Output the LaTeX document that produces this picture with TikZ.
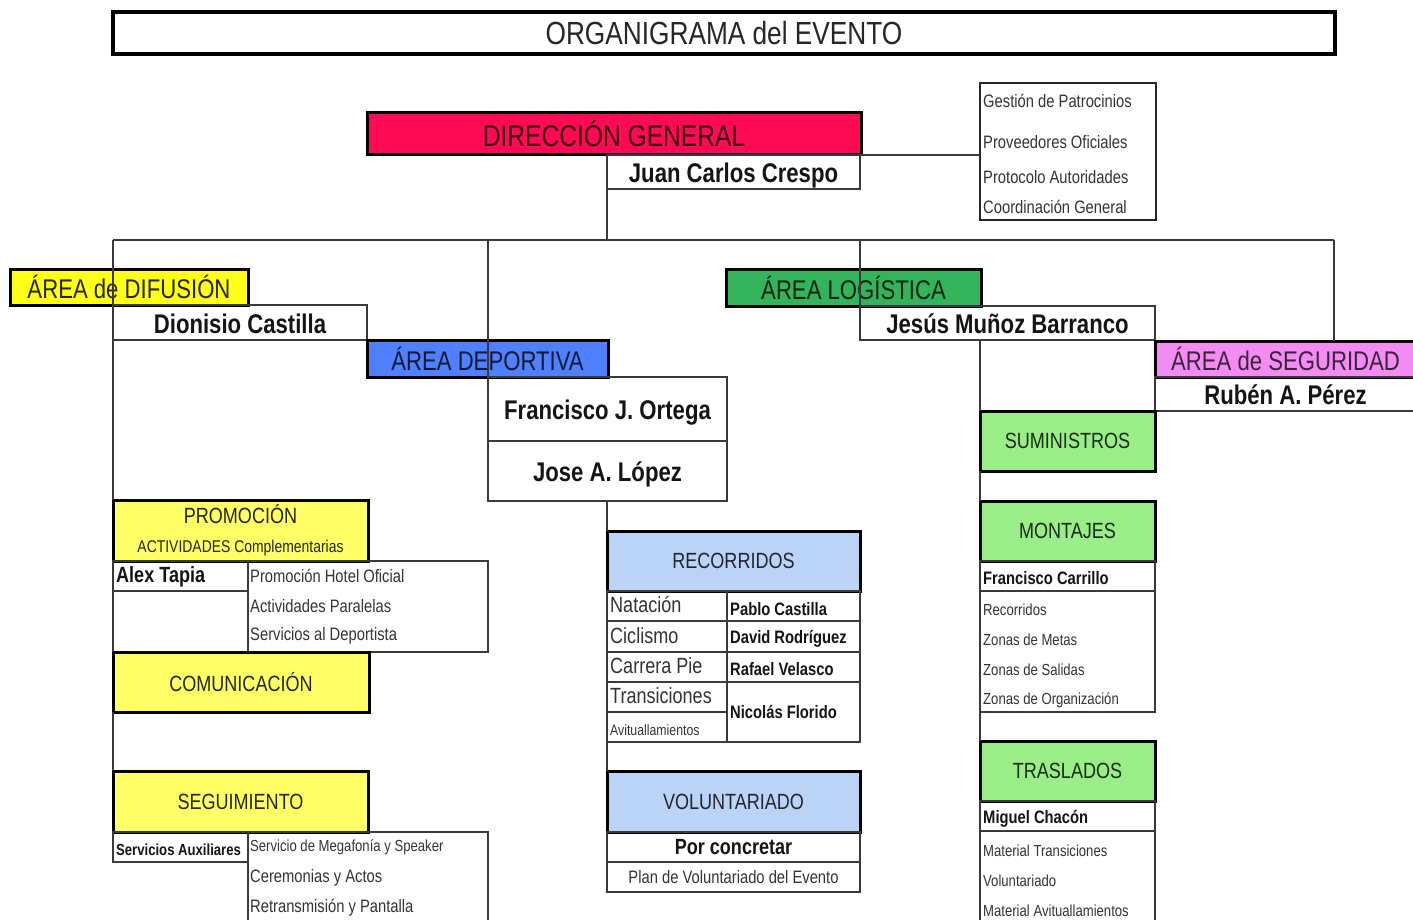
\documentclass[tikz,border=0pt]{standalone}
\usepackage{fontspec}
\setmainfont{Liberation Sans}[FakeStretch=0.82]
\usetikzlibrary{calc}
\definecolor{dirred}{HTML}{FF0A55}
\definecolor{difyel}{HTML}{FFFF1A}
\definecolor{depblue}{HTML}{4F80FF}
\definecolor{loggreen}{HTML}{33B35C}
\definecolor{segpink}{HTML}{F28CF2}
\definecolor{lyel}{HTML}{FFFF66}
\definecolor{lgreen}{HTML}{99EE88}
\definecolor{lblue}{HTML}{BBD3F7}
\definecolor{ln}{HTML}{3A3A3A}
\definecolor{txt}{HTML}{333333}
\tikzset{
  base/.style={rectangle, inner sep=0pt, outer sep=0pt, anchor=north west},
  thickbox/.style={base, draw=black, line width=3pt},
  thinbox/.style={base, draw=ln, line width=1.3pt},
  conn/.style={draw=ln, line width=1.3pt},
  hdr/.style={font=\fontsize{27}{30}\selectfont},
  nm/.style={font=\bfseries\fontsize{27}{30}\selectfont, text=black!92, text height=23pt, text depth=1.7pt},
  sub/.style={font=\fontsize{22}{26}\selectfont},
  lt/.style={anchor=west, inner sep=0pt, text=txt, font=\fontsize{18}{20}\selectfont},
  st/.style={anchor=west, inner sep=0pt, text=txt, font=\fontsize{16}{18}\selectfont},
  bt/.style={anchor=west, inner sep=0pt, text=black!92, font=\bfseries\fontsize{18}{20}\selectfont},
}
\newcommand{\bx}[7]{\node[#2, minimum width={#5-#3}, minimum height={#6-#4}] (#1) at (#3,#4) {#7};}
\begin{document}
\begin{tikzpicture}[x=1pt,y=-1pt]
\useasboundingbox (0,0) rectangle (1413,920);
\clip (0,0) rectangle (1413,920);
\fill[white] (0,0) rectangle (1413,920);
% title
\bx{title}{base, draw=black, line width=4pt, text=black!85, font=\fontsize{32}{36}\selectfont}{113}{12}{1335}{54}{ORGANIGRAMA del EVENTO}
% direccion
\bx{dir}{thickbox, fill=dirred, text=black!75!dirred, font=\fontsize{30}{34}\selectfont}{367}{113}{861}{155}{DIRECCIÓN GENERAL}
\bx{juan}{thinbox, nm}{607}{155}{860}{189}{Juan Carlos Crespo}
\bx{gest}{base, draw=black!85, line width=2.5pt}{980}{83}{1156}{220}{}
\node[lt] (g1) at (983,101) {Gestión de Patrocinios};
\node[lt] (g2) at (983,142) {Proveedores Oficiales};
\node[lt] (g3) at (983,177) {Protocolo Autoridades};
\node[lt] (g4) at (983,207) {Coordinación General};
% areas
\bx{difusion}{thickbox, fill=difyel, hdr, text=black!85!difyel}{10}{269}{248}{305}{ÁREA de DIFUSIÓN}
\bx{dionisio}{thinbox, nm}{113}{305}{367}{340}{Dionisio Castilla}
\bx{deportiva}{thickbox, fill=depblue, hdr, text=black!80!depblue}{367}{340}{608}{377}{ÁREA DEPORTIVA}
\bx{ortega}{thinbox, nm}{488}{377}{727}{441}{Francisco J. Ortega}
\bx{jose}{thinbox, nm}{488}{441}{727}{501}{Jose A. López}
\bx{logistica}{thickbox, fill=loggreen, hdr, text=black!80!loggreen}{726}{269}{981}{306}{ÁREA LOGÍSTICA}
\bx{jesus}{thinbox, nm}{860}{306}{1155}{340}{Jesús Muñoz Barranco}
\bx{seguridad}{thickbox, fill=segpink, hdr, text=black!75!segpink}{1155}{341}{1416}{377}{ÁREA de SEGURIDAD}
\bx{ruben}{thinbox, nm}{1155}{377}{1416}{411}{Rubén A. Pérez}
% logistica column
\bx{suministros}{thickbox, fill=lgreen, sub, text=black!82!lgreen}{980}{411}{1155}{471}{SUMINISTROS}
\bx{montajes}{thickbox, fill=lgreen, sub, text=black!82!lgreen}{980}{501}{1155}{561}{MONTAJES}
\bx{carrillo}{thinbox}{980}{561}{1155}{591}{}
\node[bt] (carrillot) at (983,578) {Francisco Carrillo};
\bx{montlist}{thinbox}{980}{591}{1155}{712}{}
\node[st] (m1) at (983,610) {Recorridos};
\node[st] (m2) at (983,640) {Zonas de Metas};
\node[st] (m3) at (983,670) {Zonas de Salidas};
\node[st] (m4) at (983,700) {Zonas de Organización};
\bx{traslados}{thickbox, fill=lgreen, sub, text=black!82!lgreen}{980}{741}{1155}{801}{TRASLADOS}
\bx{chacon}{thinbox}{980}{801}{1155}{831}{}
\node[bt] (chacont) at (983,819) {Miguel Chacón};
\bx{traslist}{thinbox}{980}{831}{1155}{940}{}
\node[st] (t1) at (983,851) {Material Transiciones};
\node[st] (t2) at (983,881) {Voluntariado};
\node[st] (t3) at (983,911) {Material Avituallamientos};
% deportiva column
\bx{recorridos}{thickbox, fill=lblue, sub, text=black!82!lblue}{607}{531}{860}{591}{RECORRIDOS}
\bx{nat}{thinbox}{607}{591}{727}{621}{}
\bx{pablo}{thinbox}{727}{591}{860}{621}{}
\bx{cic}{thinbox}{607}{621}{727}{652}{}
\bx{david}{thinbox}{727}{621}{860}{652}{}
\bx{car}{thinbox}{607}{652}{727}{682}{}
\bx{rafael}{thinbox}{727}{652}{860}{682}{}
\bx{tra}{thinbox}{607}{682}{727}{712}{}
\bx{avi}{thinbox}{607}{712}{727}{742}{}
\bx{nicolas}{thinbox}{727}{682}{860}{742}{}
\node[lt, font=\fontsize{22}{24}\selectfont] (natt) at (610,605) {Natación};
\node[lt, font=\fontsize{22}{24}\selectfont] (cict) at (610,636) {Ciclismo};
\node[lt, font=\fontsize{22}{24}\selectfont] (cart) at (610,666) {Carrera Pie};
\node[lt, font=\fontsize{22}{24}\selectfont] (trat) at (610,696) {Transiciones};
\node[st, font=\fontsize{15}{17}\selectfont] (avit) at (610,730) {Avituallamientos};
\node[bt] (pablot) at (730,609) {Pablo Castilla};
\node[bt] (davidt) at (730,639) {David Rodríguez};
\node[bt] (rafaelt) at (730,669) {Rafael Velasco};
\node[bt] (nicolast) at (730,712) {Nicolás Florido};
\bx{voluntariado}{thickbox, fill=lblue, sub, text=black!82!lblue}{607}{771}{860}{832}{VOLUNTARIADO}
\bx{porc}{thinbox, font=\bfseries\fontsize{22}{24}\selectfont, text=black!92}{607}{832}{860}{862}{Por concretar}
\bx{plan}{thinbox, font=\fontsize{18}{20}\selectfont, text=txt}{607}{862}{860}{892}{Plan de Voluntariado del Evento}
% difusion column
\bx{promocion}{thickbox, fill=lyel, align=center, text=black!85!lyel, font=\fontsize{22}{29}\selectfont}{113}{500}{368}{561}{PROMOCIÓN\\{\fontsize{17}{29}\selectfont ACTIVIDADES Complementarias}}
\bx{alex}{thinbox}{113}{561}{248}{591}{}
\node[bt, font=\bfseries\fontsize{22}{24}\selectfont] (alext) at (116,577) {Alex Tapia};
\bx{promlist}{thinbox}{248}{561}{488}{652}{}
\node[lt] (p1) at (250,576) {Promoción Hotel Oficial};
\node[lt] (p2) at (250,606) {Actividades Paralelas};
\node[lt] (p3) at (250,636) {Servicios al Deportista};
\bx{comunicacion}{thickbox, fill=lyel, sub, text=black!85!lyel}{113}{652}{369}{712}{COMUNICACIÓN}
\bx{seguimiento}{thickbox, fill=lyel, sub, text=black!85!lyel}{113}{771}{368}{832}{SEGUIMIENTO}
\bx{servaux}{thinbox}{113}{832}{248}{862}{}
\node[bt, font=\bfseries\fontsize{16}{18}\selectfont] (servauxt) at (116,850) {Servicios Auxiliares};
\bx{seglist}{thinbox}{248}{832}{488}{940}{}
\node[st] (s1) at (250,847) {Servicio de Megafonía y Speaker};
\node[lt] (s2) at (250,878) {Ceremonias y Actos};
\node[lt] (s3) at (250,908) {Retransmisión y Pantalla};
% connectors
\coordinate (busL) at (113,240);
\coordinate (busR) at (1334,240);
\draw[conn] (juan.south west) -- (juan.south west |- busL);
\draw[conn] (busL) -- (busR);
\draw[conn] (dir.south east) -- (dir.south east -| gest.west);
\draw[conn] (busL) -- (dionisio.north west);
\draw[conn] (dionisio.south west) -- (promocion.north west);
\draw[conn] (alex.south west) -- (comunicacion.north west);
\draw[conn] (comunicacion.south west) -- (seguimiento.north west);
\draw[conn] (ortega.north west |- busL) -- (ortega.north west);
\draw[conn] (jose.south -| recorridos.north west) -- (recorridos.north west);
\draw[conn] (avi.south west) -- (voluntariado.north west);
\draw[conn] (jesus.north west |- busL) -- (jesus.north west);
\draw[conn] (suministros.north west |- jesus.south) -- (suministros.north west);
\draw[conn] (suministros.south west) -- (montajes.north west);
\draw[conn] (montlist.south west) -- (traslados.north west);
\draw[conn] (busR) -- (busR |- seguridad.north);
\end{tikzpicture}
\end{document}
